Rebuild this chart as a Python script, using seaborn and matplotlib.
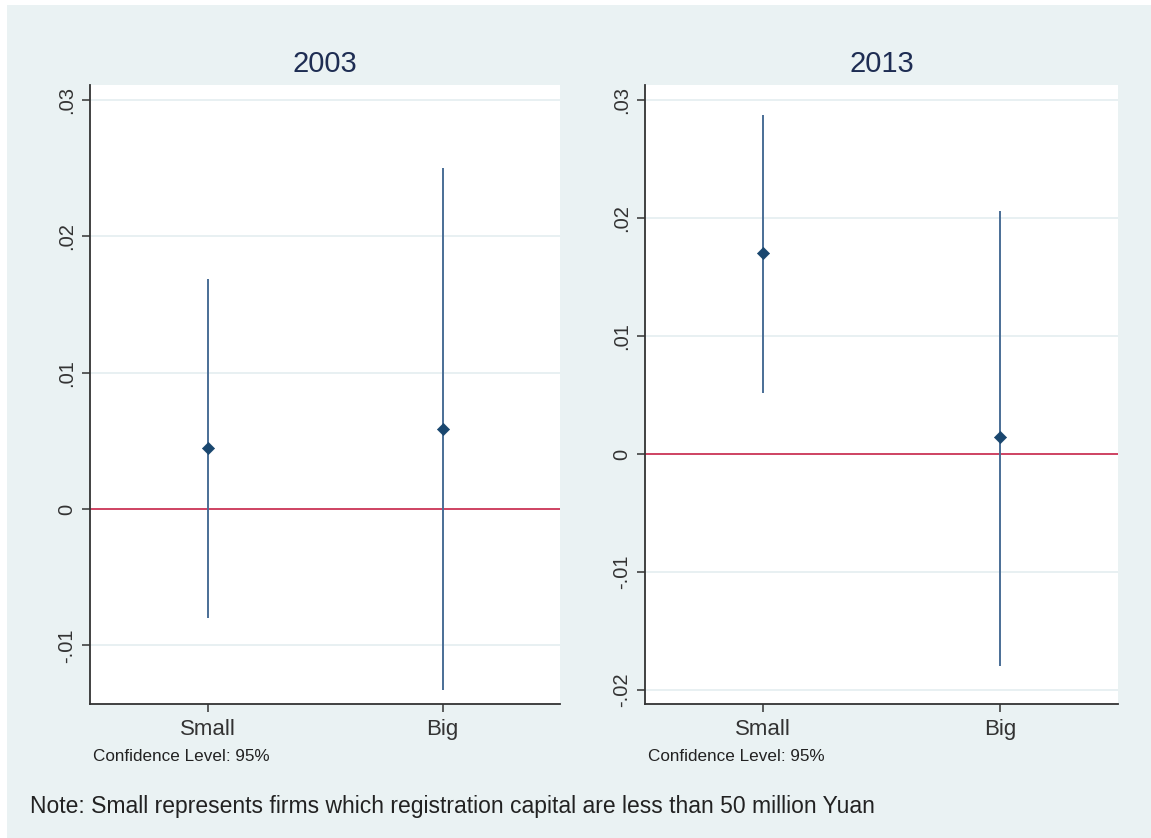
import matplotlib
matplotlib.use("Agg")
import matplotlib.pyplot as plt
import seaborn as sns
import pandas as pd
from matplotlib.patches import Rectangle

# ---- data ----
categories = ["Small", "Big"]
years = ["2003", "2013"]
est_2003 = [0.0045, 0.0059]
lo_2003 = [-0.0080, -0.0133]
hi_2003 = [0.0169, 0.0250]
est_2013 = [0.0170, 0.0014]
lo_2013 = [0.0052, -0.0180]
hi_2013 = [0.0287, 0.0206]
yticks_2003 = [-0.01, 0.0, 0.01, 0.02, 0.03]
yticks_2013 = [-0.02, -0.01, 0.0, 0.01, 0.02, 0.03]
ylim_2003 = (-0.01429, 0.0311)
ylim_2013 = (-0.02119, 0.03127)
conf_text = "Confidence Level: 95%"
note_text = "Note: Small represents firms which registration capital are less than 50 million Yuan"

sns.set_style("white")
plt.rcParams["font.family"] = ["Liberation Sans", "DejaVu Sans"]

BG = "#EAF2F3"
NAVY = "#1A476F"
CI = "#4A6E96"
RED = "#C8143C"
TITLE = "#1E2D53"
AXC = "#333333"

fig = plt.figure(figsize=(11.51, 8.38), dpi=100)
fig.patch.set_facecolor("white")
fig.patches.append(Rectangle((7 / 1151, 0), 1 - 7 / 1151, 1 - 5 / 838,
                             transform=fig.transFigure, facecolor=BG,
                             edgecolor="none", zorder=-10))

W, H = 1151, 838
boxes = [(90, 560), (645, 1118)]
top, bottom = 85, 704

panels = [
    (years[0], est_2003, lo_2003, hi_2003, yticks_2003, ylim_2003),
    (years[1], est_2013, lo_2013, hi_2013, yticks_2013, ylim_2013),
]


def fmt(v):
    if abs(v) < 1e-12:
        return "0"
    s = f"{v:.2f}"
    return s.replace("0.", ".", 1)


for (x0, x1), (yr, est, lo, hi, ticks, ylim) in zip(boxes, panels):
    ax = fig.add_axes([x0 / W, 1 - bottom / H, (x1 - x0) / W, (bottom - top) / H])
    ax.set_facecolor("white")
    df = pd.DataFrame({"cat": categories, "est": est, "lo": lo, "hi": hi})
    pos = list(range(len(categories)))
    ax.axhline(0, color=RED, lw=1.1, zorder=2)
    ax.vlines(pos, df["lo"], df["hi"], color=CI, lw=1.4, zorder=3)
    sns.scatterplot(x=pos, y=df["est"], marker="D", s=38, color=NAVY,
                    edgecolor=NAVY, linewidth=0.5, ax=ax, zorder=4)
    ax.set_xlim(-0.5, 1.5)
    ax.set_ylim(*ylim)
    ax.set_xticks(pos)
    ax.set_xticklabels(categories, fontsize=16, color=AXC)
    ax.set_yticks(ticks)
    ax.set_yticklabels([fmt(t) for t in ticks], fontsize=14.5, color=AXC,
                       rotation=90, va="center")
    ax.yaxis.grid(True, color="#E4EEF0", lw=1.2)
    ax.set_axisbelow(True)
    for s in ["top", "right"]:
        ax.spines[s].set_visible(False)
    for s in ["left", "bottom"]:
        ax.spines[s].set_color(AXC)
        ax.spines[s].set_linewidth(1.3)
    ax.tick_params(axis="both", direction="out", length=6, width=1.1,
                   color=AXC, left=True, bottom=True)
    ax.tick_params(axis="x", pad=5)
    ax.tick_params(axis="y", pad=4)
    ax.set_xlabel("")
    ax.set_ylabel("")
    ax.set_title(yr, fontsize=21, color=TITLE, pad=9)
    fig.text((x0 + 3) / W, 1 - 756 / H, conf_text, fontsize=12.3,
             color="#222222", ha="left", va="center")

fig.text(30 / W, 1 - 806 / H, note_text, fontsize=16.5, color="#222222",
         ha="left", va="center")

fig.savefig("out.png", dpi=100, facecolor=fig.get_facecolor())
